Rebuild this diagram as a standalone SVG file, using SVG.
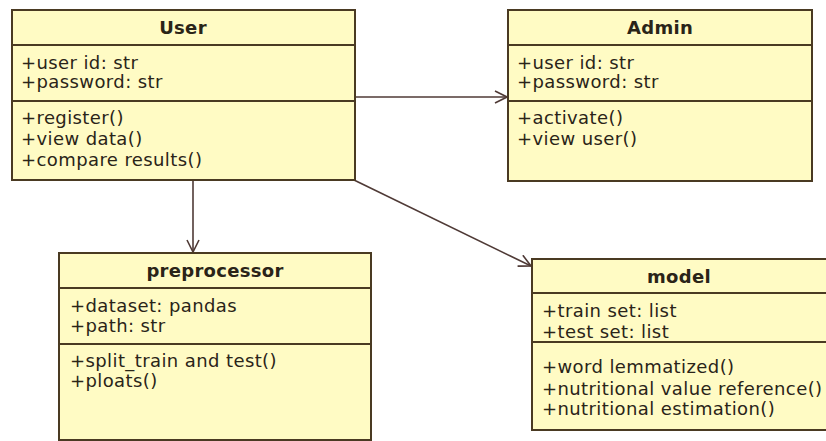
<svg xmlns="http://www.w3.org/2000/svg" width="826" height="441" viewBox="0 0 826 441">
  <defs>
    <style>
      .box { fill: #fffbc4; stroke: #4a3a22; stroke-width: 2; }
      .sep { stroke: #4a3a22; stroke-width: 2; }
      .title { font-family: "DejaVu Sans", Verdana, sans-serif; font-size: 18px; font-weight: bold; fill: #2a2418; text-anchor: middle; letter-spacing: 0.3px; }
      .item { font-family: "DejaVu Sans", Verdana, sans-serif; font-size: 18px; fill: #2a2418; letter-spacing: 0.4px; }
      .link { stroke: #4f3a36; stroke-width: 1.6; fill: none; }
    </style>
    <marker id="open" viewBox="0 0 14 14" refX="13" refY="7" markerWidth="14" markerHeight="14" markerUnits="userSpaceOnUse" orient="auto">
      <path d="M1,1 L13,7 L1,13" fill="none" stroke="#4f3a36" stroke-width="1.6"/>
    </marker>
  </defs>

  <rect width="826" height="441" fill="#ffffff"/>

  <g id="connectors">
    <line class="link" x1="355" y1="97" x2="507" y2="97" marker-end="url(#open)"/>
    <line class="link" x1="193" y1="181" x2="193" y2="252" marker-end="url(#open)"/>
    <line class="link" x1="354" y1="180" x2="531" y2="266" marker-end="url(#open)"/>
  </g>

  <g id="user">
    <rect class="box" x="12" y="10" width="343" height="170"/>
    <line class="sep" x1="12" y1="45" x2="355" y2="45"/>
    <line class="sep" x1="12" y1="101" x2="355" y2="101"/>
    <text class="title" x="183" y="34">User</text>
    <text class="item" x="21" y="69">+user id: str</text>
    <text class="item" x="21" y="88">+password: str</text>
    <text class="item" x="21" y="124">+register()</text>
    <text class="item" x="21" y="145">+view data()</text>
    <text class="item" x="21" y="166">+compare results()</text>
  </g>

  <g id="admin">
    <rect class="box" x="508" y="10" width="304" height="171"/>
    <line class="sep" x1="508" y1="45" x2="812" y2="45"/>
    <line class="sep" x1="508" y1="101" x2="812" y2="101"/>
    <text class="title" x="660" y="34">Admin</text>
    <text class="item" x="517" y="69">+user id: str</text>
    <text class="item" x="517" y="88">+password: str</text>
    <text class="item" x="517" y="124">+activate()</text>
    <text class="item" x="517" y="145">+view user()</text>
  </g>

  <g id="preprocessor">
    <rect class="box" x="59" y="253" width="312" height="187"/>
    <line class="sep" x1="59" y1="288" x2="371" y2="288"/>
    <line class="sep" x1="59" y1="344" x2="371" y2="344"/>
    <text class="title" x="215" y="277">preprocessor</text>
    <text class="item" x="70" y="312">+dataset: pandas</text>
    <text class="item" x="70" y="332">+path: str</text>
    <text class="item" x="70" y="367">+split_train and test()</text>
    <text class="item" x="70" y="387">+ploats()</text>
  </g>

  <g id="model">
    <rect class="box" x="532" y="259" width="300" height="171"/>
    <line class="sep" x1="532" y1="293" x2="826" y2="293"/>
    <line class="sep" x1="532" y1="342" x2="826" y2="342"/>
    <text class="title" x="679" y="283">model</text>
    <text class="item" x="542" y="317">+train set: list</text>
    <text class="item" x="542" y="338">+test set: list</text>
    <text class="item" x="542" y="373">+word lemmatized()</text>
    <text class="item" x="542" y="395">+nutritional value reference()</text>
    <text class="item" x="542" y="415">+nutritional estimation()</text>
  </g>
</svg>
